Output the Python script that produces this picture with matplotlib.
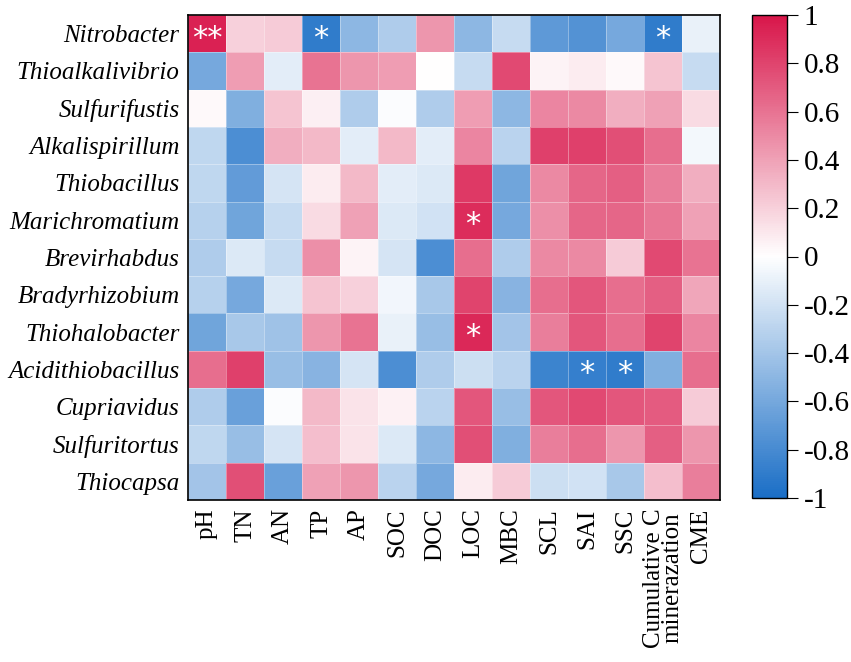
import numpy as np
import matplotlib
matplotlib.use('Agg')
import matplotlib.pyplot as plt
from matplotlib.colors import LinearSegmentedColormap

# Genera (rows) and soil properties (columns)
genera = ['Nitrobacter', 'Thioalkalivibrio', 'Sulfurifustis', 'Alkalispirillum',
          'Thiobacillus', 'Marichromatium', 'Brevirhabdus', 'Bradyrhizobium',
          'Thiohalobacter', 'Acidithiobacillus', 'Cupriavidus', 'Sulfuritortus',
          'Thiocapsa']
variables = ['pH', 'TN', 'AN', 'TP', 'AP', 'SOC', 'DOC', 'LOC', 'MBC', 'SCL',
             'SAI', 'SSC', 'Cumulative C\nminerazation', 'CME']

# correlation values
corr = [
    [0.95, 0.20, 0.22, -0.90, -0.50, -0.35, 0.45, -0.50, -0.25, -0.70, -0.75, -0.60, -0.90, -0.10],
    [-0.60, 0.42, -0.12, 0.60, 0.45, 0.42, 0.00, -0.25, 0.78, 0.05, 0.08, 0.03, 0.25, -0.25],
    [0.03, -0.55, 0.25, 0.07, -0.35, -0.02, -0.35, 0.42, -0.50, 0.52, 0.50, 0.35, 0.40, 0.15],
    [-0.28, -0.78, 0.35, 0.30, -0.12, 0.30, -0.12, 0.52, -0.30, 0.82, 0.82, 0.75, 0.62, -0.05],
    [-0.28, -0.68, -0.18, 0.08, 0.30, -0.12, -0.15, 0.85, -0.62, 0.50, 0.65, 0.68, 0.55, 0.35],
    [-0.32, -0.62, -0.25, 0.15, 0.40, -0.15, -0.20, 0.90, -0.60, 0.48, 0.65, 0.65, 0.58, 0.40],
    [-0.35, -0.15, -0.25, 0.48, 0.05, -0.18, -0.78, 0.62, -0.35, 0.50, 0.50, 0.22, 0.78, 0.60],
    [-0.32, -0.60, -0.15, 0.25, 0.20, -0.06, -0.38, 0.80, -0.52, 0.62, 0.72, 0.62, 0.68, 0.38],
    [-0.62, -0.38, -0.42, 0.45, 0.60, -0.10, -0.45, 0.92, -0.40, 0.55, 0.72, 0.62, 0.80, 0.52],
    [0.62, 0.82, -0.45, -0.52, -0.18, -0.78, -0.35, -0.22, -0.30, -0.85, -0.88, -0.90, -0.55, 0.62],
    [-0.35, -0.65, -0.02, 0.30, 0.12, 0.06, -0.30, 0.72, -0.45, 0.72, 0.78, 0.72, 0.70, 0.22],
    [-0.28, -0.45, -0.18, 0.28, 0.12, -0.15, -0.50, 0.75, -0.55, 0.55, 0.62, 0.45, 0.68, 0.45],
    [-0.40, 0.75, -0.65, 0.40, 0.45, -0.30, -0.60, 0.08, 0.22, -0.22, -0.20, -0.38, 0.28, 0.55],
]

# significance marks (row, col, text)
stars = [(0, 0, '**'), (0, 3, '*'), (0, 12, '*'), (5, 7, '*'), (8, 7, '*'),
         (9, 10, '*'), (9, 11, '*')]

cbar_ticks = [1, 0.8, 0.6, 0.4, 0.2, 0, -0.2, -0.4, -0.6, -0.8, -1]

cmap = LinearSegmentedColormap.from_list(
    'bwr_custom', ['#1a6ec6', '#ffffff', '#d8164a'])

plt.rcParams['font.family'] = ['Liberation Serif', 'DejaVu Serif']

data = np.array(corr)
fig = plt.figure(figsize=(8.51, 6.62), dpi=100)
ax = fig.add_axes([188 / 851, 1 - 500 / 662, 532 / 851, 485 / 662])
cax = fig.add_axes([752 / 851, 1 - 498 / 662, 35 / 851, 483 / 662])

mesh = ax.pcolormesh(data, cmap=cmap, vmin=-1, vmax=1,
                     edgecolors=(1, 1, 1, 0.35), linewidth=0.6)
ax.set_xlim(0, len(variables))
ax.set_ylim(len(genera), 0)
ax.set_xticks(np.arange(len(variables)) + 0.5)
ax.set_xticklabels(variables, rotation=90, fontsize=18, linespacing=0.8)
ax.set_yticks(np.arange(len(genera)) + 0.5)
ax.set_yticklabels(genera, fontsize=18, style='italic')
ax.tick_params(length=0, pad=6)
for sp in ax.spines.values():
    sp.set_linewidth(1.2)

for r, c, t in stars:
    ax.text(c + 0.5, r + 0.62, t, ha='center', va='center', color='white',
            fontsize=22, family='DejaVu Sans')

cb = fig.colorbar(mesh, cax=cax, ticks=cbar_ticks)
cb.ax.set_yticklabels([('%g' % v) for v in cbar_ticks], fontsize=21)
cb.ax.tick_params(length=8, width=0.8, pad=4)
cb.outline.set_linewidth(1.0)

fig.savefig('out.png', dpi=100)
